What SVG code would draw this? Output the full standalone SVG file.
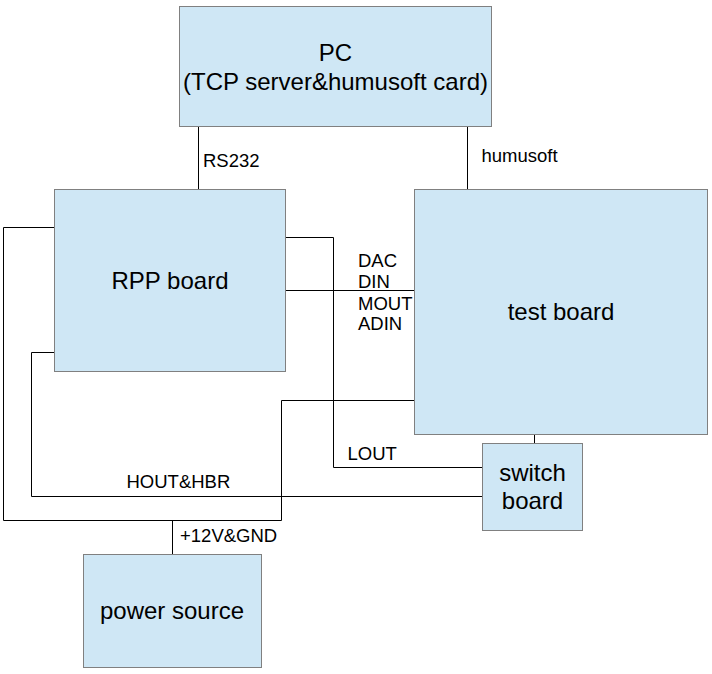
<svg xmlns="http://www.w3.org/2000/svg" width="712" height="674" viewBox="0 0 712 674">
<style>
.box{fill:#cfe7f5;stroke:#808080;stroke-width:1}
.big{font-family:"Liberation Sans",Arial,sans-serif;font-size:24px;fill:#000;text-anchor:middle}
.lbl{font-family:"Liberation Sans",Arial,sans-serif;font-size:18.5px;fill:#000}
.wire{fill:none;stroke:#000;stroke-width:1}
</style>
<rect width="712" height="674" fill="#fff"/>
<g id="connectors">
<path class="wire" d="M198.5 126.5V189.5"/>
<path class="wire" d="M467.5 126.5V189.5"/>
<path class="wire" d="M285.5 237.5H333.5V467.5H482.5"/>
<path class="wire" d="M285.5 290.5H414.5"/>
<path class="wire" d="M54.5 227.5H3.5V520.5H281.5V400.5H414.5"/>
<path class="wire" d="M172.5 520.5V554.5"/>
<path class="wire" d="M54.5 352.5H31.5V496.5H482.5"/>
<path class="wire" d="M534.5 434.5V443.5"/>
<text class="lbl" x="203" y="167">RS232</text>
<text class="lbl" x="481.5" y="162">humusoft</text>
<text class="lbl" x="358" y="267">DAC</text>
<text class="lbl" x="358" y="288">DIN</text>
<text class="lbl" x="358" y="310">MOUT</text>
<text class="lbl" x="358" y="330">ADIN</text>
<text class="lbl" x="347.5" y="460">LOUT</text>
<text class="lbl" x="126.5" y="488">HOUT&amp;HBR</text>
<text class="lbl" x="180" y="542">+12V&amp;GND</text>
</g>
<g id="pc">
<rect class="box" x="179.5" y="6.5" width="312" height="120"/>
<text class="big" x="335.5" y="61">PC</text>
<text class="big" x="335.5" y="90">(TCP server&amp;humusoft card)</text>
</g>
<g id="rpp">
<rect class="box" x="54.5" y="189.5" width="231" height="182"/>
<text class="big" x="170" y="288.5">RPP board</text>
</g>
<g id="test">
<rect class="box" x="414.5" y="189.5" width="293" height="245"/>
<text class="big" x="561" y="319.5">test board</text>
</g>
<g id="switch">
<rect class="box" x="482.5" y="443.5" width="100" height="87"/>
<text class="big" x="532.5" y="481">switch</text>
<text class="big" x="532.5" y="508.5">board</text>
</g>
<g id="power">
<rect class="box" x="83.5" y="554.5" width="178" height="113"/>
<text class="big" x="172" y="618.5">power source</text>
</g>
</svg>
